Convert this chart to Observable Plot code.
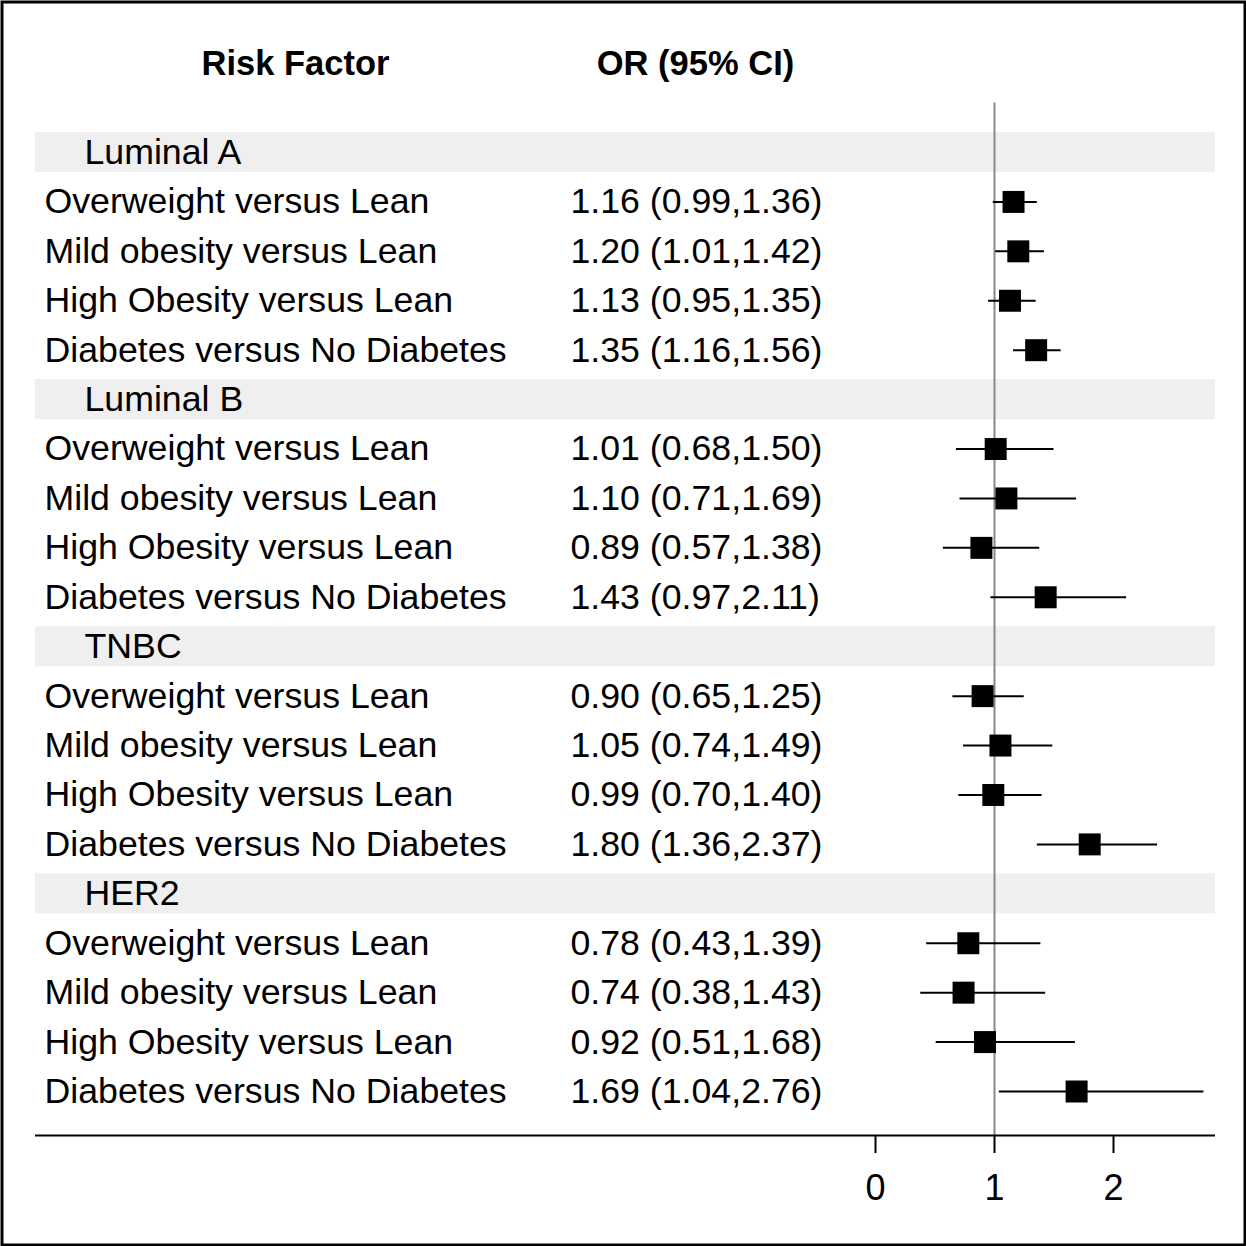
<!DOCTYPE html>
<html><head><meta charset="utf-8">
<script src="https://cdn.jsdelivr.net/npm/d3@7"></script>
<script src="https://cdn.jsdelivr.net/npm/@observablehq/plot@0.6"></script>
<style>body{margin:0;background:#fff}</style>
</head><body><div id="chart"></div>
<script>
const groups = ["Luminal A", "Luminal B", "TNBC", "HER2"];
const factors = ["Overweight versus Lean", "Mild obesity versus Lean", "High Obesity versus Lean", "Diabetes versus No Diabetes"];
const orLuminalA = [1.16, 1.20, 1.13, 1.35];
const loLuminalA = [0.99, 1.01, 0.95, 1.16];
const hiLuminalA = [1.36, 1.42, 1.35, 1.56];
const orLuminalB = [1.01, 1.10, 0.89, 1.43];
const loLuminalB = [0.68, 0.71, 0.57, 0.97];
const hiLuminalB = [1.50, 1.69, 1.38, 2.11];
const orTNBC = [0.90, 1.05, 0.99, 1.80];
const loTNBC = [0.65, 0.74, 0.70, 1.36];
const hiTNBC = [1.25, 1.49, 1.40, 2.37];
const orHER2 = [0.78, 0.74, 0.92, 1.69];
const loHER2 = [0.43, 0.38, 0.51, 1.04];
const hiHER2 = [1.39, 1.43, 1.68, 2.76];
const xTicks = [0, 1, 2];
const headerRisk = "Risk Factor";
const headerOR = "OR (95% CI)";

const orValues = [orLuminalA, orLuminalB, orTNBC, orHER2];
const ciLow = [loLuminalA, loLuminalB, loTNBC, loHER2];
const ciHigh = [hiLuminalA, hiLuminalB, hiTNBC, hiHER2];

const f2 = d3.format(".2f");
const groupRows = [], factorRows = [];
let r = 0;
groups.forEach((g, gi) => {
  groupRows.push({row: r++, label: g});
  factors.forEach((f, fi) => {
    const or = orValues[gi][fi], lo = ciLow[gi][fi], hi = ciHigh[gi][fi];
    factorRows.push({row: r++, label: f, or, lo, hi, text: `${f2(or)} (${f2(lo)},${f2(hi)})`});
  });
});

const font = "'Liberation Sans', Arial, Helvetica, sans-serif";
const chart = Plot.plot({
  width: 1246, height: 1246,
  marginTop: 0, marginLeft: 0, marginRight: 0, marginBottom: 111,
  style: {fontFamily: font, background: "#fff", color: "#000"},
  x: {domain: [0, 2], range: [875, 1113]},
  y: {domain: [0, 19], range: [152, 1091], axis: null},
  marks: [
    Plot.rect(groupRows, {y1: d => d.row - 0.405, y2: d => d.row + 0.405, fill: "#efefef", insetLeft: 35, insetRight: 31}),
    Plot.ruleX([1], {y1: -1, y2: 19.9, stroke: "#888", strokeWidth: 2}),
    Plot.ruleY(factorRows, {x1: "lo", x2: "hi", y: "row", stroke: "#000", strokeWidth: 2}),
    Plot.dot(factorRows, {x: "or", y: "row", symbol: "square", r: 12.4, fill: "#000"}),
    Plot.text(groupRows, {y: "row", text: "label", frameAnchor: "left", dx: 84, textAnchor: "start", fontSize: 35.7, fill: "#000"}),
    Plot.text(factorRows, {y: "row", text: "label", frameAnchor: "left", dx: 44, textAnchor: "start", fontSize: 35.7, fill: "#000"}),
    Plot.text(factorRows, {y: "row", text: "text", frameAnchor: "left", dx: 570, textAnchor: "start", fontSize: 35.7, fill: "#000"}),
    Plot.text([headerRisk], {y: -1.8, text: d => d, frameAnchor: "left", dx: 295, textAnchor: "middle", fontSize: 34.5, fontWeight: "bold", fill: "#000"}),
    Plot.text([headerOR], {y: -1.8, text: d => d, frameAnchor: "left", dx: 695, textAnchor: "middle", fontSize: 34.5, fontWeight: "bold", fill: "#000"}),
    Plot.ruleY([19.89], {insetLeft: 35, insetRight: 31, stroke: "#000", strokeWidth: 2}),
    Plot.axisX({ticks: xTicks, tickFormat: d3.format("d"), tickSize: 18, tickPadding: 21, fontSize: 36, strokeWidth: 2}),
    Plot.frame({insetTop: 1.5, insetLeft: 1.5, insetRight: 1.5, insetBottom: -109.5, stroke: "#000", strokeWidth: 3})
  ]
});
document.getElementById("chart").appendChild(chart);
</script>
</body></html>
